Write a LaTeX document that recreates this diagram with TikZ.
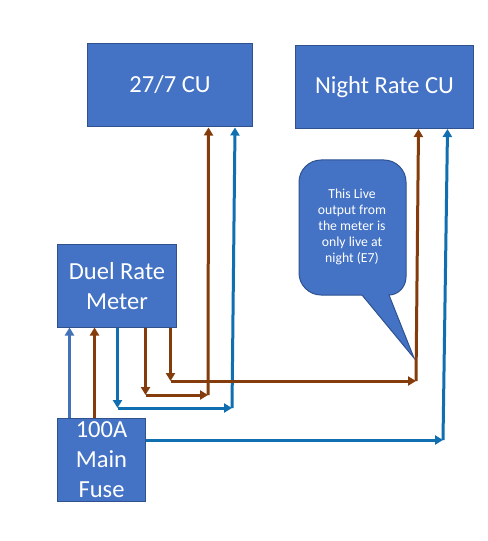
\documentclass[tikz,border=0pt]{standalone}
\usepackage{fontspec}
\setmainfont{Carlito}
\usetikzlibrary{arrows.meta}
\definecolor{boxblue}{HTML}{4472C4}
\definecolor{boxedge}{HTML}{2F528F}
\definecolor{wirebrown}{HTML}{843C0C}
\definecolor{wireblue}{HTML}{0F6FB0}
\definecolor{wirepale}{HTML}{4472B8}
\tikzset{
  x=0.75pt,y=-0.75pt,
  boxnode/.style={draw=boxedge,line width=0.75pt,fill=boxblue,text=white,inner sep=0pt,align=center,anchor=north west},
  bigtext/.style={font=\fontsize{18.4}{22.5}\selectfont},
  wire/.style={line width=2.25pt,-{Triangle[length=6pt,width=6.8pt]}},
  brownwire/.style={draw=wirebrown,color=wirebrown},
  bluewire/.style={draw=wireblue,color=wireblue},
  palewire/.style={draw=wirepale,color=wirepale},
  callout/.style={draw=boxedge,line width=0.75pt,fill=boxblue},
}
\begin{document}
\begin{tikzpicture}
\useasboundingbox[fill=white] (0,0) rectangle (487,541);
% boxes
\node[boxnode,bigtext,minimum width=123.75pt,minimum height=62.25pt] (cu) at (87,43) {27/7 CU};
\node[boxnode,bigtext,minimum width=133.5pt,minimum height=62.25pt] (night) at (295,45) {Night Rate CU};
\node[boxnode,bigtext,minimum width=89.25pt,minimum height=62.25pt] (meter) at (57,244) {Duel Rate\\Meter};
\node[boxnode,minimum width=66pt,minimum height=62.25pt,font=\fontsize{18.4}{22.5}\selectfont] (fuse) at (57,418) {100A\\Main\\Fuse};
% callout
\path[callout] (406,277) .. controls (406,287) and (398,295) .. (389,295) -- (414,358) -- (362,295) -- (321,295)
  .. controls (309,295) and (299,285) .. (299,273) -- (299,182)
  .. controls (299,170) and (309,160) .. (321,160) -- (384,160)
  .. controls (396,160) and (406,170) .. (406,182) -- cycle;
\node[text=white,align=center,inner sep=0pt,font=\fontsize{10.3}{12.1}\selectfont] (note) at (352,227) {This Live\\output from\\the meter is\\only live at\\night (E7)};
% junctions and ends
\coordinate (a1) at (69.5,327.5);
\coordinate (a2) at (94.5,327.5);
\coordinate (b1) at (117.5,408);
\coordinate (b2) at (232,408);
\coordinate (b3) at (235,127.5);
\coordinate (c1) at (145.5,395);
\coordinate (c2) at (208,395);
\coordinate (c3) at (208.5,127.5);
\coordinate (d1) at (170.5,381);
\coordinate (d2) at (416,381);
\coordinate (d3) at (418.5,129);
\coordinate (e1) at (443,440);
\coordinate (e3) at (447.5,129);
% wires
\draw[wire,palewire] (fuse.north -| a1) -- (a1);
\draw[wire,brownwire] (fuse.north -| a2) -- (a2);
\draw[wire,bluewire] (meter.south -| b1) -- (b1);
\draw[wire,bluewire] (b1) -- (b2);
\draw[wire,bluewire] (b2) -- (b3);
\draw[wire,brownwire] (meter.south -| c1) -- (c1);
\draw[wire,brownwire] (c1) -- (c2);
\draw[wire,brownwire] (c2) -- (c3);
\draw[wire,brownwire] (meter.south -| d1) -- (d1);
\draw[wire,brownwire] (d1) -- (d2);
\draw[wire,brownwire] (d2) -- (d3);
\draw[wire,bluewire] (fuse.east |- e1) -- (e1);
\draw[wire,bluewire] (e1) -- (e3);
\end{tikzpicture}
\end{document}
